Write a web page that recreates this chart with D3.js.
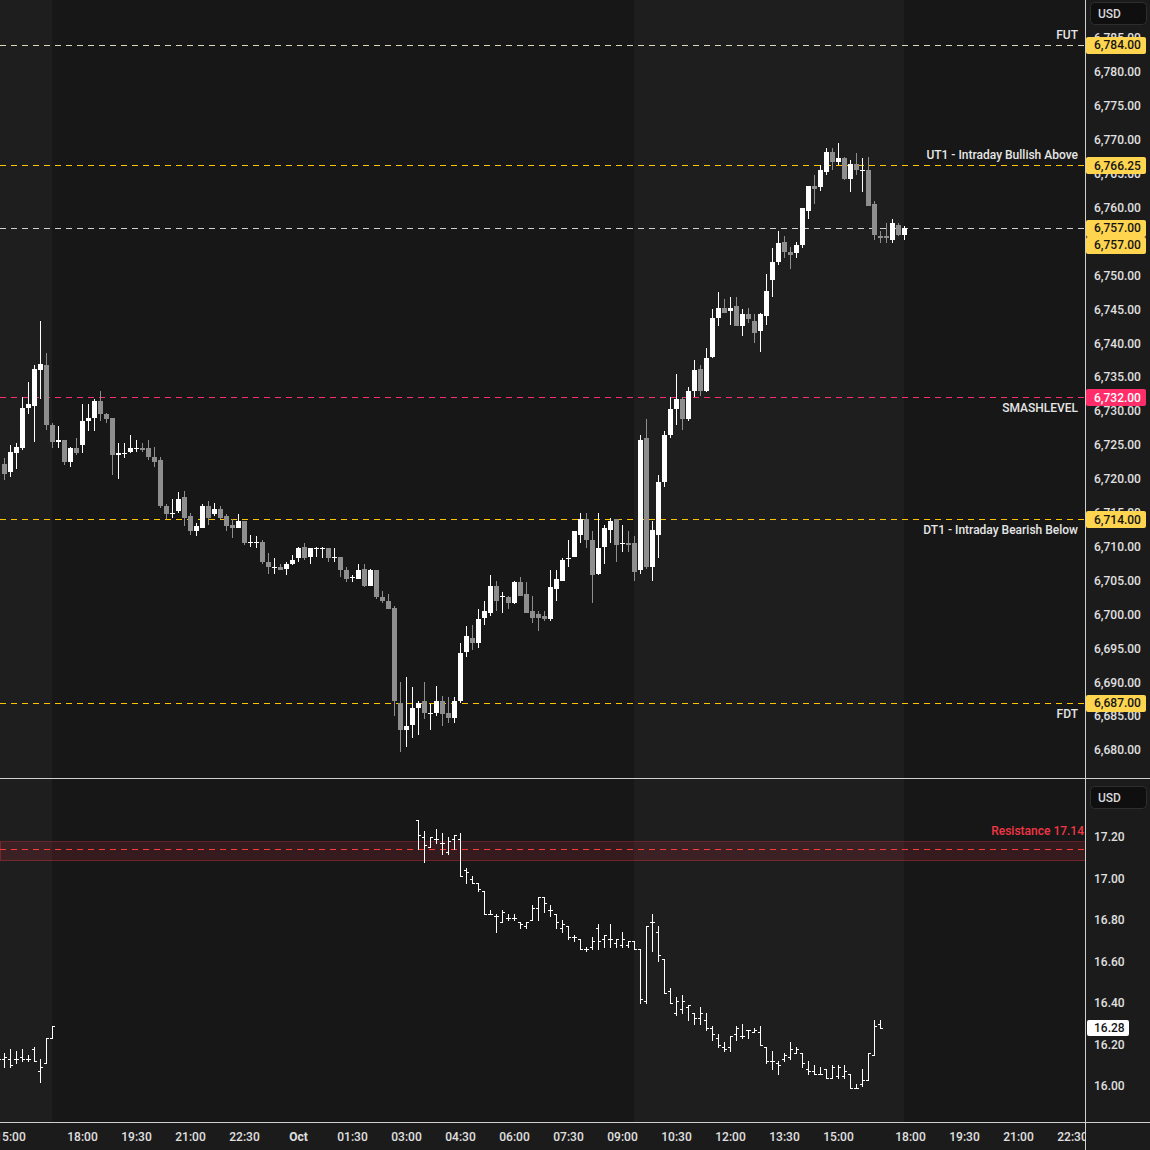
<!DOCTYPE html>
<html><head><meta charset="utf-8">
<script src="https://cdn.jsdelivr.net/npm/d3@7"></script>
<style>
html,body{margin:0;padding:0;background:#1b1b1b;}
svg{display:block;font-family:Roboto,"Noto Sans",sans-serif;}
</style></head><body>
<svg id="c" width="1150" height="1150"></svg>
<script>
// ---- ES 10-minute candles (index 0 = 14:50 prior day) ----
const esOpen = [6722.25,6721.0,6723.75,6724.5,6730.5,6730.75,6736.0,6736.75,6728.0,6725.5,6725.75,6722.5,6724.5,6725.0,6728.5,6729.0,6731.5,6729.5,6729.0,6723.5,6723.75,6724.0,6724.5,6724.5,6724.5,6723.25,6722.75,6716.0,6714.75,6715.25,6717.25,6714.5,6712.25,6712.75,6716.0,6714.75,6715.5,6714.5,6713.25,6712.75,6713.75,6710.75,6710.5,6710.75,6707.75,6707.0,6707.0,6706.75,6707.5,6708.25,6710.0,6708.5,6709.75,6709.75,6709.75,6708.5,6708.5,6706.5,6705.5,6705.25,6706.75,6704.25,6706.5,6702.5,6702.0,6701.0,6687.0,6683.0,6683.75,6686.25,6687.25,6685.25,6685.5,6687.25,6685.5,6684.75,6687.25,6694.5,6696.5,6695.75,6699.5,6700.25,6704.25,6702.75,6702.5,6701.75,6704.75,6703.0,6700.5,6700.0,6699.75,6699.25,6703.75,6705.0,6708.25,6708.5,6711.75,6714.0,6711.0,6706.0,6710.0,6712.5,6714.0,6710.5,6710.5,6710.5,6706.5,6726.0,6707.0,6711.75,6719.5,6726.5,6730.25,6731.75,6728.75,6733.0,6736.25,6733.0,6738.0,6743.75,6745.25,6744.75,6745.5,6742.5,6744.25,6743.25,6741.75,6744.0,6749.25,6752.0,6755.0,6753.5,6753.25,6754.5,6759.5,6763.25,6763.0,6765.25,6768.25,6766.75,6767.25,6764.25,6766.5,6765.5,6765.5,6760.5,6755.75,6755.75,6755.25,6757.5,6756.0];
const esHigh = [6723.0,6725.0,6725.25,6732.0,6734.25,6736.75,6743.25,6738.5,6728.25,6727.75,6725.75,6724.75,6726.0,6731.0,6731.0,6731.75,6733.0,6729.75,6729.0,6725.25,6725.25,6726.5,6725.75,6725.25,6725.75,6724.75,6723.25,6716.25,6717.0,6718.0,6718.25,6715.0,6713.5,6716.25,6716.75,6716.5,6716.0,6714.75,6714.0,6714.75,6713.75,6711.75,6711.5,6711.0,6709.0,6708.25,6707.5,6707.75,6708.75,6710.0,6710.5,6709.75,6710.0,6710.0,6709.75,6709.75,6708.5,6707.0,6705.75,6707.5,6707.5,6706.75,6706.5,6703.5,6703.0,6701.25,6690.0,6690.75,6689.25,6687.25,6690.0,6686.75,6689.5,6688.0,6687.75,6687.75,6695.75,6698.25,6698.5,6700.75,6702.0,6705.75,6705.0,6703.25,6702.75,6705.0,6705.5,6704.75,6702.75,6700.5,6700.5,6706.5,6706.5,6708.25,6711.0,6712.25,6715.0,6715.0,6712.25,6715.0,6713.25,6714.25,6714.0,6713.25,6712.25,6711.5,6726.5,6728.75,6713.75,6720.5,6727.0,6732.0,6735.5,6732.0,6733.5,6737.5,6736.75,6739.25,6745.0,6747.5,6746.5,6746.75,6746.75,6745.0,6745.25,6744.25,6744.5,6750.25,6754.0,6756.5,6755.75,6754.25,6755.0,6760.0,6763.25,6764.75,6766.25,6768.75,6768.75,6769.5,6767.5,6767.0,6768.0,6767.25,6767.5,6761.0,6756.5,6757.75,6758.25,6757.75,6757.25];
const esLow = [6719.75,6720.25,6721.5,6724.25,6729.5,6725.5,6731.75,6727.25,6724.5,6724.5,6722.0,6721.75,6723.5,6723.75,6727.0,6727.0,6728.5,6728.25,6720.5,6720.0,6723.0,6723.75,6724.0,6724.0,6722.75,6721.75,6715.75,6714.0,6714.25,6715.0,6713.0,6711.75,6711.5,6712.75,6713.25,6714.5,6714.0,6712.25,6711.25,6712.75,6710.25,6710.0,6709.75,6707.5,6706.0,6706.0,6706.5,6705.75,6707.25,6707.75,6708.0,6707.5,6708.5,6708.25,6707.75,6707.75,6705.5,6704.75,6704.75,6705.25,6704.0,6704.25,6702.25,6701.75,6700.75,6685.0,6679.75,6680.5,6681.75,6682.25,6684.5,6683.0,6685.0,6683.5,6684.0,6684.0,6687.0,6693.75,6694.75,6695.0,6698.5,6699.75,6700.5,6700.25,6700.75,6701.5,6702.75,6700.25,6698.75,6697.5,6699.0,6699.0,6702.0,6705.0,6707.0,6708.5,6710.5,6709.75,6701.75,6705.75,6707.5,6710.5,6707.75,6709.25,6709.25,6705.0,6706.0,6706.75,6705.0,6708.25,6718.75,6726.0,6728.0,6727.25,6728.5,6732.0,6732.25,6732.75,6737.75,6742.5,6744.5,6742.75,6742.5,6741.0,6743.0,6740.0,6738.75,6742.75,6746.75,6751.5,6752.5,6751.0,6752.5,6754.0,6758.25,6760.5,6762.5,6764.75,6765.5,6766.25,6764.0,6762.25,6764.75,6762.25,6760.25,6755.25,6754.75,6754.75,6754.75,6755.75,6755.25];
const esClose = [6720.75,6724.0,6724.75,6730.5,6731.0,6736.25,6737.0,6728.0,6725.5,6725.75,6722.5,6724.5,6723.75,6728.5,6729.0,6731.5,6729.5,6728.75,6723.5,6723.75,6723.75,6724.5,6724.5,6724.25,6723.25,6722.5,6716.0,6714.75,6715.0,6717.0,6714.25,6712.25,6713.0,6716.0,6714.25,6715.5,6714.25,6713.0,6712.75,6713.75,6710.5,6710.75,6710.75,6707.75,6707.0,6707.0,6706.5,6707.5,6708.0,6709.75,6708.25,6709.75,6709.75,6709.75,6708.25,6708.5,6706.5,6705.25,6705.5,6706.5,6704.25,6706.5,6702.5,6702.0,6700.75,6687.25,6683.0,6683.5,6686.25,6687.0,6685.5,6685.5,6687.25,6685.25,6684.75,6687.25,6694.25,6696.75,6695.75,6699.25,6700.5,6704.25,6702.0,6702.75,6701.75,6704.75,6702.75,6700.25,6699.5,6699.5,6699.25,6704.0,6705.25,6708.0,6708.25,6712.25,6714.0,6711.0,6705.75,6709.75,6712.75,6713.75,6710.25,6710.5,6710.25,6706.25,6725.75,6707.0,6712.5,6719.5,6726.5,6730.25,6731.75,6728.75,6733.0,6736.0,6733.0,6737.75,6743.75,6745.25,6744.5,6745.25,6742.5,6744.25,6743.5,6741.5,6744.25,6747.75,6752.0,6754.75,6753.5,6753.0,6754.5,6760.0,6763.25,6762.75,6765.5,6768.25,6766.75,6767.25,6764.25,6766.5,6765.5,6765.5,6760.25,6756.0,6755.5,6755.5,6757.75,6756.0,6757.0];

// ---- VIX 10-minute OHLC bars, two trading sessions: [start index, count] ----
const vixSessions = [[-1, 10], [69, 78]];
const vixOpen = [16.14,16.13,16.13,16.13,16.14,16.13,16.18,16.07,16.11,16.23,
 17.28,17.20,17.15,17.19,17.17,17.13,17.19,17.19,17.04,17.00,16.98,16.94,16.83,16.82,16.79,16.81,16.81,16.79,16.77,16.80,16.86,16.91,16.85,16.83,16.76,16.77,16.72,16.71,16.66,16.67,16.76,16.71,16.71,16.69,16.68,16.68,16.70,16.66,16.41,16.79,16.74,16.61,16.46,16.35,16.37,16.38,16.35,16.33,16.32,16.28,16.23,16.19,16.19,16.25,16.24,16.27,16.26,16.26,16.19,16.12,16.11,16.13,16.14,16.16,16.16,16.08,16.07,16.06,16.08,16.04,16.05,16.05,16.06,15.99,16.01,16.03,16.15,16.30];
const vixHigh = [16.15,16.16,16.18,16.17,16.18,16.15,16.19,16.13,16.23,16.29,
 17.28,17.23,17.20,17.24,17.22,17.20,17.21,17.22,17.05,17.01,16.98,16.94,16.85,16.83,16.85,16.83,16.83,16.79,16.79,16.87,16.91,16.91,16.87,16.83,16.80,16.77,16.73,16.71,16.67,16.72,16.78,16.73,16.78,16.71,16.74,16.70,16.70,16.66,16.77,16.83,16.77,16.61,16.47,16.43,16.44,16.39,16.35,16.38,16.35,16.29,16.25,16.21,16.24,16.29,16.30,16.27,16.28,16.29,16.19,16.17,16.12,16.16,16.21,16.19,16.16,16.12,16.10,16.09,16.08,16.10,16.10,16.10,16.06,16.01,16.08,16.16,16.32,16.32];
const vixLow = [16.12,16.09,16.09,16.11,16.12,16.12,16.12,16.02,16.11,16.23,
 17.14,17.08,17.15,17.17,17.12,17.12,17.14,17.01,16.98,16.98,16.94,16.83,16.83,16.74,16.79,16.80,16.80,16.76,16.76,16.80,16.80,16.84,16.82,16.76,16.74,16.71,16.70,16.66,16.65,16.66,16.66,16.67,16.67,16.67,16.67,16.67,16.66,16.40,16.40,16.65,16.60,16.45,16.40,16.34,16.35,16.32,16.30,16.30,16.27,16.22,16.19,16.17,16.17,16.22,16.23,16.23,16.26,16.20,16.11,16.08,16.06,16.12,16.13,16.16,16.09,16.06,16.06,16.06,16.04,16.04,16.04,16.04,15.99,15.99,16.00,16.03,16.15,16.28];
const vixClose = [16.13,16.14,16.10,16.13,16.13,16.13,16.12,16.09,16.23,16.29,
 17.21,17.16,17.20,17.19,17.17,17.18,17.21,17.01,17.03,16.98,16.95,16.83,16.83,16.82,16.84,16.81,16.81,16.78,16.79,16.86,16.91,16.88,16.85,16.79,16.78,16.72,16.72,16.66,16.66,16.70,16.70,16.73,16.71,16.71,16.71,16.70,16.66,16.42,16.77,16.79,16.63,16.45,16.40,16.41,16.41,16.39,16.33,16.35,16.28,16.25,16.20,16.18,16.24,16.28,16.24,16.27,16.27,16.20,16.12,16.12,16.10,16.15,16.18,16.18,16.11,16.07,16.06,16.06,16.04,16.09,16.09,16.07,15.99,15.99,16.03,16.16,16.29,16.28];

// ---- axes / annotations ----
const timeTickIndex = [1,13,22,31,40,49,58,67,76,85,94,103,112,121,130,139,151,160,169,178];
const timeTickLabels = ["15:00","18:00","19:30","21:00","22:30","Oct","01:30","03:00","04:30","06:00","07:30","09:00","10:30","12:00","13:30","15:00","18:00","19:30","21:00","22:30"];
const priceTicks = [6680,6685,6690,6695,6700,6705,6710,6715,6720,6725,6730,6735,6740,6745,6750,6755,6760,6765,6770,6775,6780,6785];
const vixTicks = [16.0,16.2,16.4,16.6,16.8,17.0,17.2];
const levelValues = [6784, 6766.25, 6757, 6732, 6714, 6687];
const levelNames = ["FUT","UT1 - Intraday Bullish Above","","SMASHLEVEL","DT1 - Intraday Bearish Below","FDT"];
const levelKinds = ["fut","yellow","last","smash","yellow","yellow"];
const lastPrice = 6757.00;
const vixLast = 16.28;
const resistanceValue = 17.14;
const resistanceBand = [17.09, 17.18];
const sessionShade = [[-2, 8.5], [105.5, 150.5]]; // regular-hours (lighter) spans, in bar index units

// ---- layout ----
const svg = d3.select("#c");
const plotR = 1085, mainBottom = 778, vixTop = 779, vixBottom = 1122;
const x = d3.scaleLinear().domain([0, 150]).range([4, 904]);
const y = d3.scaleLinear().domain([6680, 6780]).range([750, 72]);
const yv = d3.scaleLinear().domain([16.0, 17.2]).range([1086, 837]);
const fmtP = d3.format(",.2f");
const FW = 500;

svg.append("rect").attr("width",1150).attr("height",1150).attr("fill","#1b1b1b");
svg.append("rect").attr("x",0).attr("y",0).attr("width",plotR).attr("height",vixBottom).attr("fill","#171717");
sessionShade.forEach(s=>{
  const x0 = Math.max(0, x(s[0])-3), x1 = x(s[1])-3;
  svg.append("rect").attr("x",x0).attr("y",0).attr("width",x1-x0).attr("height",vixBottom).attr("fill","#1e1e1e");
});

const defs = svg.append("defs");
defs.append("clipPath").attr("id","cm").append("rect").attr("x",0).attr("y",0).attr("width",plotR).attr("height",mainBottom);
defs.append("clipPath").attr("id","cv").append("rect").attr("x",0).attr("y",vixTop).attr("width",plotR).attr("height",vixBottom-vixTop);

// ---- level lines (main pane) ----
const gl = svg.append("g").attr("clip-path","url(#cm)").attr("shape-rendering","crispEdges");
const lvlColor = {fut:"#dcd6bd", yellow:"#ffc400", last:"#cfcfcf", smash:"#ff2d6a"};
levelValues.forEach((v,i)=>{
  const yy = Math.round(y(v))+0.5;
  gl.append("line").attr("x1",0).attr("x2",plotR).attr("y1",yy).attr("y2",yy)
    .attr("stroke",lvlColor[levelKinds[i]]).attr("stroke-width",1).attr("stroke-dasharray","6,5");
});

// ---- candles ----
const gc = svg.append("g").attr("clip-path","url(#cm)").attr("shape-rendering","crispEdges");
d3.range(esOpen.length).forEach(i=>{
  const cx = Math.round(x(i));
  const up = esClose[i] >= esOpen[i];
  const col = up ? "#ffffff" : "#8e8e8e";
  gc.append("line").attr("x1",cx+0.5).attr("x2",cx+0.5)
    .attr("y1",Math.round(y(esHigh[i]))).attr("y2",Math.round(y(esLow[i])))
    .attr("stroke",col).attr("stroke-width",1);
  const yt = Math.round(y(Math.max(esOpen[i],esClose[i])));
  const yb = Math.round(y(Math.min(esOpen[i],esClose[i])));
  gc.append("rect").attr("x",cx-2).attr("width",5).attr("y",yt).attr("height",Math.max(1,yb-yt)).attr("fill",col);
});

// level labels
levelValues.forEach((v,i)=>{
  if(!levelNames[i]) return;
  const above = (i<=1);
  svg.append("text").attr("x",1078).attr("y", y(v) + (above ? -10 : 11))
    .attr("text-anchor","end").attr("dominant-baseline","central").attr("font-weight",FW)
    .attr("fill","#e6e6e6").attr("font-size",12).text(levelNames[i]);
});

// ---- VIX pane ----
const gv = svg.append("g").attr("clip-path","url(#cv)").attr("shape-rendering","crispEdges");
gv.append("rect").attr("x",0).attr("width",plotR)
  .attr("y",Math.round(yv(resistanceBand[1]))+0.5).attr("height",Math.round(yv(resistanceBand[0])-yv(resistanceBand[1])))
  .attr("fill","rgba(242,54,69,0.14)").attr("stroke","rgba(242,54,69,0.32)").attr("stroke-width",1);
gv.append("line").attr("x1",0).attr("x2",plotR)
  .attr("y1",Math.round(yv(resistanceValue))+0.5).attr("y2",Math.round(yv(resistanceValue))+0.5)
  .attr("stroke","#ff3b3b").attr("stroke-dasharray","6,5");
let k = 0;
vixSessions.forEach(([start,count])=>{
  for(let j=0;j<count;j++,k++){
    const cx = Math.round(x(start+j));
    const yo = Math.round(yv(vixOpen[k]))+0.5, yc = Math.round(yv(vixClose[k]))+0.5;
    gv.append("line").attr("x1",cx+0.5).attr("x2",cx+0.5)
      .attr("y1",Math.round(yv(vixHigh[k]))).attr("y2",Math.round(yv(vixLow[k]))+1)
      .attr("stroke","#ffffff");
    gv.append("line").attr("x1",cx-2).attr("x2",cx).attr("y1",yo).attr("y2",yo).attr("stroke","#ffffff");
    gv.append("line").attr("x1",cx+1).attr("x2",cx+3).attr("y1",yc).attr("y2",yc).attr("stroke","#ffffff");
  }
});
svg.append("text").attr("x",1084).attr("y",yv(resistanceValue)-18).attr("text-anchor","end")
  .attr("dominant-baseline","central").attr("fill","#f23645").attr("font-size",12).attr("font-weight",FW)
  .text("Resistance " + resistanceValue.toFixed(2));

// ---- frame lines ----
svg.append("line").attr("x1",0).attr("x2",1150).attr("y1",mainBottom+0.5).attr("y2",mainBottom+0.5).attr("stroke","#cfcfcf");
svg.append("line").attr("x1",0).attr("x2",1150).attr("y1",vixBottom+0.5).attr("y2",vixBottom+0.5).attr("stroke","#cfcfcf");
svg.append("line").attr("x1",plotR+0.5).attr("x2",plotR+0.5).attr("y1",0).attr("y2",1150).attr("stroke","#cfcfcf");

// ---- price axes ----
const ax = svg.append("g").attr("transform",`translate(${plotR+1},0)`)
  .call(d3.axisRight(y).tickValues(priceTicks).tickFormat(fmtP).tickSize(0).tickPadding(8));
ax.select(".domain").remove();
ax.selectAll("text").attr("fill","#e0e0e0").attr("font-size",12).attr("font-family","Roboto").attr("font-weight",FW);

const axv = svg.append("g").attr("transform",`translate(${plotR+1},0)`)
  .call(d3.axisRight(yv).tickValues(vixTicks).tickFormat(d3.format(".2f")).tickSize(0).tickPadding(8));
axv.select(".domain").remove();
axv.selectAll("text").attr("fill","#e0e0e0").attr("font-size",12).attr("font-family","Roboto").attr("font-weight",FW);

const boxFill = {fut:"#ffd54f", yellow:"#ffd54f", last:"#ffd54f", smash:"#ff2d6a"};
function axisBox(yy, txt, fill, tcol){
  const g = svg.append("g");
  g.append("rect").attr("x",plotR+1).attr("y",Math.round(yy)-8).attr("width",60).attr("height",17).attr("rx",2).attr("fill",fill);
  g.append("text").attr("x",plotR+9).attr("y",yy+0.5).attr("dominant-baseline","central").attr("font-weight",FW)
    .attr("fill",tcol).attr("font-size",12).text(txt);
}
levelValues.forEach((v,i)=>{
  if(levelKinds[i]==="last") return;
  axisBox(y(v), fmtP(v), boxFill[levelKinds[i]], levelKinds[i]==="smash" ? "#ffffff" : "#141414");
});
axisBox(y(6757), fmtP(6757), "#ffd54f", "#141414");
axisBox(y(lastPrice)+17, fmtP(lastPrice), "#ffd54f", "#141414");
(function(){
  const yy = yv(vixLast);
  svg.append("rect").attr("x",plotR+2).attr("y",Math.round(yy)-8).attr("width",42).attr("height",16).attr("rx",2).attr("fill","#ffffff");
  svg.append("text").attr("x",plotR+9).attr("y",yy).attr("dominant-baseline","central").attr("font-weight",FW)
    .attr("fill","#141414").attr("font-size",12).text(vixLast.toFixed(2));
})();

[2, 786].forEach(t=>{
  svg.append("rect").attr("x",1090.5).attr("y",t+0.5).attr("width",56).attr("height",22).attr("rx",4)
    .attr("fill","#0f0f0f").attr("stroke","#2e2e2e");
  svg.append("text").attr("x",1098).attr("y",t+12).attr("dominant-baseline","central").attr("font-weight",FW)
    .attr("fill","#d8d8d8").attr("font-size",12).text("USD");
});

// ---- time axis ----
const tx = svg.append("g").attr("transform",`translate(0,${vixBottom+1})`)
  .call(d3.axisBottom(x).tickValues(timeTickIndex).tickFormat((d,i)=>timeTickLabels[i]).tickSize(0).tickPadding(9));
tx.select(".domain").remove();
tx.selectAll("text").attr("fill","#e0e0e0").attr("font-size",12).attr("font-family","Roboto")
  .attr("font-weight",(d,i)=>timeTickLabels[i]==="Oct" ? "bold" : FW);
svg.append("rect").attr("x",plotR+1).attr("y",vixBottom+1).attr("width",64).attr("height",27).attr("fill","#1b1b1b");
</script>
</body></html>
